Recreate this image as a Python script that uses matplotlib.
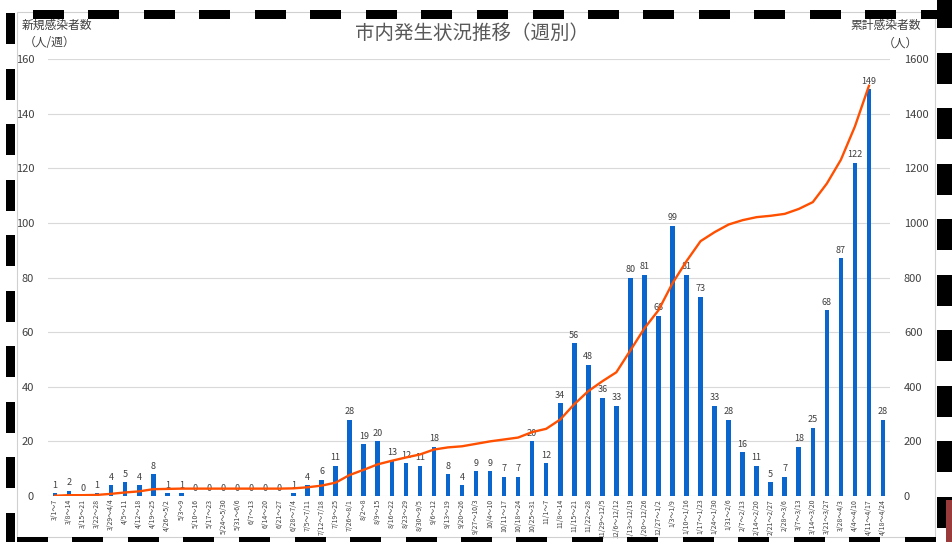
import numpy as np
import matplotlib
matplotlib.use("Agg")
import matplotlib.pyplot as plt
from matplotlib.patches import Rectangle

plt.rcParams['font.family'] = ['Noto Sans CJK JP', 'DejaVu Sans']

weeks = ["3/1～7", "3/8～14", "3/15～21", "3/22～28", "3/29～4/4", "4/5～11", "4/12～18",
         "4/19～25", "4/26～5/2", "5/3～9", "5/10～16", "5/17～23", "5/24～5/30", "5/31～6/6",
         "6/7～13", "6/14～20", "6/21～27", "6/28～7/4", "7/5～7/11", "7/12～7/18", "7/19～25",
         "7/26～8/1", "8/2～8", "8/9～15", "8/16～22", "8/23～29", "8/30～9/5", "9/6～12",
         "9/13～19", "9/20～26", "9/27～10/3", "10/4～10", "10/11～17", "10/18～24", "10/25～31",
         "11/1～7", "11/8～14", "11/15～21", "11/22～28", "11/29～12/5", "12/6～12/12",
         "12/13～12/19", "12/20～12/26", "12/27～1/2", "1/3～1/9", "1/10～1/16", "1/17～1/23",
         "1/24～1/30", "1/31～2/6", "2/7～2/13", "2/14～2/20", "2/21～2/27", "2/28～3/6",
         "3/7～3/13", "3/14～3/20", "3/21～3/27", "3/28～4/3", "4/4～4/10", "4/11～4/17",
         "4/18～4/24"]

new_cases = [1, 2, 0, 1, 4, 5, 4, 8, 1, 1,
             0, 0, 0, 0, 0, 0, 0, 1, 4, 6,
             11, 28, 19, 20, 13, 12, 11, 18, 8, 4,
             9, 9, 7, 7, 20, 12, 34, 56, 48, 36,
             33, 80, 81, 66, 99, 81, 73, 33, 28, 16,
             11, 5, 7, 18, 25, 68, 87, 122, 149, 28]

# cumulative line is shown through the week ending 4/17
line_weeks = 59

title = "市内発生状況推移（週別）"
left_label = "新規感染者数"
left_unit = "（人/週）"
right_label = "累計感染者数"
right_unit = "（人）"

W, H = 953, 542
fig = plt.figure(figsize=(W / 100, H / 100), dpi=100)
fig.patch.set_facecolor('white')

ax = fig.add_axes([48 / W, 1 - 496 / H, (890 - 48) / W, (496 - 59) / H])
ax2 = ax.twinx()

x = np.arange(len(weeks))
cum = np.cumsum(new_cases)

bar_color = '#0a66cc'
line_color = '#ff4f00'
text_color = '#404040'

ax.bar(x, new_cases, width=0.33, color=bar_color, zorder=2)
for xi, v in zip(x, new_cases):
    ax.annotate(str(v), (xi, v), xytext=(0, 2.5), textcoords='offset points',
                ha='center', va='bottom', fontsize=6.5, color=text_color)

ax2.plot(x[:line_weeks], cum[:line_weeks], color=line_color, lw=1.7, zorder=3)

ax.set_xlim(-0.5, len(weeks) - 0.5)
ax.set_ylim(0, 160)
ax.set_yticks(np.arange(0, 161, 20))
ax2.set_ylim(0, 1600)
ax2.set_yticks(np.arange(0, 1601, 200))

ax.set_xticks(x)
ax.set_xticklabels(weeks, rotation=90, fontsize=5.0, color=text_color)
ax.tick_params(axis='x', length=0, pad=2)
ax.tick_params(axis='y', length=0, pad=10, labelsize=8, labelcolor=text_color)
ax2.tick_params(axis='y', length=0, pad=10, labelsize=8, labelcolor=text_color)

ax.grid(axis='y', color='#d9d9d9', lw=0.8, zorder=0)
ax.set_axisbelow(True)
for a in (ax, ax2):
    for s in a.spines.values():
        s.set_visible(False)

fig.text(472 / W, 1 - 33 / H, title, ha='center', va='center', fontsize=14, color='#595959')
fig.text(22 / W, 1 - 25 / H, left_label, ha='left', va='center', fontsize=8.5, color=text_color)
fig.text(24 / W, 1 - 43 / H, left_unit, ha='left', va='center', fontsize=8.5, color=text_color)
fig.text(921 / W, 1 - 25 / H, right_label, ha='right', va='center', fontsize=8.5, color=text_color)
fig.text(918 / W, 1 - 43 / H, right_unit, ha='right', va='center', fontsize=8.5, color=text_color)

# light frame and the black dashed border seen in the picture
fig.add_artist(Rectangle((17 / W, 1 - 537 / H), (935 - 17) / W, (537 - 12) / H,
                         transform=fig.transFigure, fill=False, ec='#d0d0d0', lw=0.8))
dash, period = 31, 55.5
k = 0
while 33 + k * period < W:
    x0 = 33 + k * period
    fig.add_artist(Rectangle((x0 / W, 1 - 19 / H), dash / W, 9 / H,
                             transform=fig.transFigure, color='black', lw=0))
    k += 1
k = 0
while 17 + k * period < 940:
    x0 = 17 + k * period
    fig.add_artist(Rectangle((x0 / W, 0), min(dash, 938 - x0) / W, 5 / H,
                             transform=fig.transFigure, color='black', lw=0))
    k += 1
k = 0
while 13 + k * period < H:
    y0 = 13 + k * period
    fig.add_artist(Rectangle((6 / W, 1 - (y0 + dash) / H), 9 / W, dash / H,
                             transform=fig.transFigure, color='black', lw=0))
    k += 1
k = 0
while -3 + k * period < H:
    y0 = -3 + k * period
    fig.add_artist(Rectangle((937 / W, 1 - (y0 + dash) / H), 16 / W, dash / H,
                             transform=fig.transFigure, color='black', lw=0))
    k += 1
fig.add_artist(Rectangle((946 / W, 0), 7 / W, 42 / H, transform=fig.transFigure,
                         color='#9a3b3b', lw=0))

fig.savefig('out.png', dpi=100, facecolor='white')
